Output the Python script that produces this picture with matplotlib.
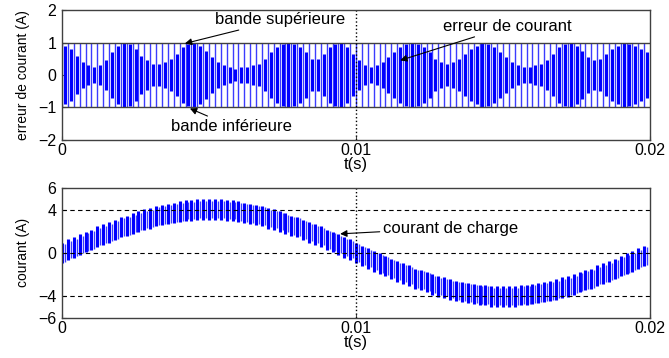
import numpy as np
import matplotlib
matplotlib.use("Agg")
import matplotlib.pyplot as plt

plt.rcParams['font.family'] = ['Liberation Sans', 'DejaVu Sans']
plt.rcParams['font.size'] = 12

# 20 ms window, about 100 switching cycles of the hysteresis controller
t_end = 0.02
n_cycles = 100
band = 1.0          # hysteresis band (A)

# amplitude of the short (thick) swings of the current error, one per cycle
bar_amp = [0.9, 0.8, 0.6,
           0.4, 0.3, 0.25, 0.3, 0.45,
           0.7, 0.9, 1.0, 0.95, 0.8,
           0.6,
           0.45, 0.35, 0.35, 0.4, 0.5,
           0.65,
           0.85, 0.95, 1.0, 0.9, 0.75,
           0.55, 0.4,
           0.3, 0.25, 0.2, 0.25, 0.25, 0.3, 0.35, 0.5,
           0.7, 0.85, 0.95, 1.0, 0.95, 0.85, 0.7,
           0.5, 0.5,
           0.65, 0.85, 0.95, 1.0, 0.85, 0.65,
           0.45, 0.3, 0.25, 0.3, 0.4,
           0.55,
           0.7, 0.85, 0.95, 1.0, 0.95, 0.85, 0.7,
           0.5, 0.4, 0.35, 0.4, 0.5,
           0.65, 0.8, 0.9, 1.0, 0.95, 0.85, 0.7,
           0.55, 0.4,
           0.3, 0.25, 0.25, 0.3, 0.35, 0.45,
           0.65, 0.85, 0.95, 1.0, 0.9, 0.75,
           0.55, 0.45, 0.5,
           0.65, 0.8, 0.9, 1.0, 0.95, 0.9, 0.8, 0.7]

# centre of the load current band, one value per cycle (A)
load_centre = [0.0, 0.3, 0.5, 0.8, 1.0, 1.2, 1.5, 1.7, 1.9, 2.1,
               2.4, 2.5, 2.7, 2.9, 3.1, 3.2, 3.4, 3.5, 3.6, 3.7,
               3.8, 3.9, 3.9, 4.0, 4.0, 4.0, 4.0, 4.0, 3.9, 3.9,
               3.8, 3.7, 3.6, 3.5, 3.4, 3.2, 3.1, 2.9, 2.7, 2.5,
               2.4, 2.1, 1.9, 1.7, 1.5, 1.2, 1.0, 0.8, 0.5, 0.3,
               0.0, -0.3, -0.5, -0.8, -1.0, -1.2, -1.5, -1.7, -1.9, -2.1,
               -2.4, -2.5, -2.7, -2.9, -3.1, -3.2, -3.4, -3.5, -3.6, -3.7,
               -3.8, -3.9, -3.9, -4.0, -4.0, -4.0, -4.0, -4.0, -3.9, -3.9,
               -3.8, -3.7, -3.6, -3.5, -3.4, -3.2, -3.1, -2.9, -2.7, -2.5,
               -2.4, -2.1, -1.9, -1.7, -1.5, -1.2, -1.0, -0.8, -0.5, -0.3]
ripple = 0.95       # half width of the load current ripple (A)

x_ticks = [0, 0.01, 0.02]
x_labels = ['0', '0.01', '0.02']
top_yticks = [-2, -1, 0, 1, 2]
bot_yticks = [-6, -4, 0, 4, 6]

period = t_end / n_cycles
t_cyc = np.arange(n_cycles) * period
amp = np.array(bar_amp)
centre = np.array(load_centre)

fig = plt.figure(figsize=(6.69, 3.58), dpi=100)
ax1 = fig.add_axes([0.0927, 0.609, 0.879, 0.363])
ax2 = fig.add_axes([0.0927, 0.112, 0.879, 0.363])

blue = '#0000ff'
thin_blue = '#3c3cff'
frame = '#404040'

# --- current error ---
ax1.vlines(t_cyc, -band, band, color=thin_blue, lw=1.0)
ax1.vlines(t_cyc + 0.5 * period, -amp, amp, color=blue, lw=2.2)
ax1.axhline(band, color=frame, lw=1.0)
ax1.axhline(-band, color=frame, lw=1.0)
ax1.axvline(0.01, color='k', ls=':', lw=1.0)
ax1.set_ylim(-2, 2)
ax1.set_yticks(top_yticks)
ax1.set_ylabel('erreur de courant (A)', fontsize=10)

ann = dict(arrowstyle='-|>', color='k', lw=0.8, mutation_scale=10, shrinkA=0, shrinkB=0)
ax1.annotate('bande supérieure', xy=(0.00418, 0.97), xytext=(0.0052, 1.7),
             va='center', ha='left', arrowprops=ann)
ax1.annotate('erreur de courant', xy=(0.0115, 0.45), xytext=(0.01295, 1.49),
             va='center', ha='left', arrowprops=ann)
ax1.annotate('bande inférieure', xy=(0.00435, -1.03), xytext=(0.0037, -1.58),
             va='center', ha='left', arrowprops=ann)

# --- load current ---
ax2.vlines(t_cyc, centre - ripple, centre + ripple, color=blue, lw=2.2)
ax2.vlines(t_cyc + 0.5 * period, centre - 0.85 * ripple, centre + 0.85 * ripple,
           color=thin_blue, lw=1.0)
for yv in [-4, 0, 4]:
    ax2.axhline(yv, color='k', ls=(0, (4, 3)), lw=0.8)
ax2.axvline(0.01, color='k', ls=':', lw=1.0)
ax2.set_ylim(-6, 6)
ax2.set_yticks(bot_yticks)
ax2.set_ylabel('courant (A)', fontsize=10)
ax2.annotate('courant de charge', xy=(0.00946, 1.76), xytext=(0.0109, 2.3),
             va='center', ha='left', arrowprops=ann)

for ax in (ax1, ax2):
    ax.set_xlim(0, t_end)
    ax.set_xticks(x_ticks)
    ax.set_xticklabels(x_labels)
    ax.set_xlabel('t(s)')
    ax.xaxis.set_label_coords(0.5, -0.13)
    ax.yaxis.set_label_coords(-0.055, 0.5)
    ax.tick_params(direction='in', length=3, color=frame, labelsize=11.5)
    ax.tick_params(axis='x', pad=2)
    ax.tick_params(axis='y', pad=4)
    for s in ax.spines.values():
        s.set_color(frame)
        s.set_linewidth(1.0)

fig.savefig('out.png', dpi=100)
